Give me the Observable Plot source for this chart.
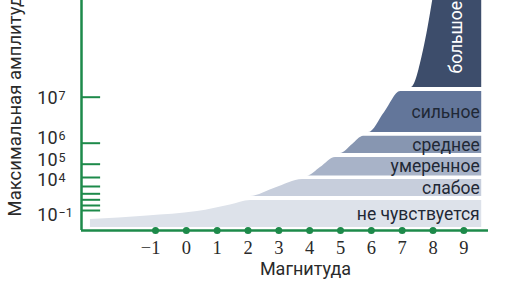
<!DOCTYPE html>
<html><head><meta charset="utf-8">
<script src="https://cdn.jsdelivr.net/npm/d3@7"></script>
<script src="https://cdn.jsdelivr.net/npm/@observablehq/plot@0.6"></script>
<style>body{margin:0;background:#fff;}</style>
</head><body><div id="chart"></div>
<script>
// Magnitude ticks (x axis)
const magnitudes = [-1, 0, 1, 2, 3, 4, 5, 6, 7, 8, 9];
// Amplitude ticks as powers of ten (y axis)
const yTickExponents = [7, 6, 5, 4, 3, 2, 1, 0, -1];
const yLabeledExponents = [7, 6, 5, 4, -1];
const yExponentText = ["7", "6", "5", "4", "−1"];
// the chart's own non-uniform amplitude axis: exponent -> height above the baseline
const yAxisExponents = [-3, -1, 0, 1, 2, 3, 4, 5, 6, 7, 8.5];
const yAxisHeights   = [0, 20, 25, 30.7, 36.7, 44, 53, 66.3, 87.3, 133.3, 230];

// left/upper edge of the shaded region: magnitude vs log10(amplitude)
const curveMagnitude = [-3.11, -1.26, 0.36, 1.43, 2.08, 2.89, 3.77, 3.93, 4.35, 4.84, 5.00, 5.39, 5.75, 5.91, 6.43, 6.95, 7.30, 7.69, 7.99, 8.15, 9.58];
const curveExponent  = [-1.9, -1.55, -1.1, 0.1, 1.55, 2.79, 3.78, 4.11, 4.75, 5.32, 5.51, 5.94, 6.15, 6.23, 6.67, 7.09, 7.15, 7.72, 8.5, 9.0, 9.6];

// intensity bands
const bandNames = ["не чувствуется", "слабое", "умеренное", "среднее", "сильное", "большое"];
const bandLow  = [-2.7, 1.55, 4.11, 5.51, 6.23, 7.15];
const bandHigh = [0.88, 3.78, 5.32, 6.15, 7.09, 9.6];
const bandColors = ["#dde2ea", "#c7cedc", "#a8b3c8", "#8796b1", "#63769a", "#3d4d6b"];

const green = "#1d8a4a";
const ink = "#2a2a2a";
const bandInk = "#1f2835";

const curve = curveMagnitude.map((m, i) => ({m, e: curveExponent[i]}));
const bands = bandNames.map((name, i) => ({name, lo: bandLow[i], hi: bandHigh[i], color: bandColors[i]}));
const rightEdge = curveMagnitude[curveMagnitude.length - 1];
const xMin = -3.4, xMax = 9.8;
const yMin = yAxisExponents[0], yMax = yAxisExponents[yAxisExponents.length - 1];

const toHeight = d3.scaleLinear().domain(yAxisExponents).range(yAxisHeights);
const bandMid = b => toHeight.invert((toHeight(b.lo) + toHeight(b.hi)) / 2);
const clamp = (v, a, b) => Math.max(a, Math.min(b, v));

const labelDy = {"7": 1, "6": -5, "5": -4, "4": 2.5, "-1": 5};

const marks = [];
bands.forEach(b => {
  marks.push(Plot.areaY(curve, {
    x: "m", y1: () => b.lo, y2: d => clamp(d.e, b.lo, b.hi),
    fill: b.color, curve: "monotone-x"
  }));
});
// band labels
marks.push(Plot.text(bands.slice(0, 5), {
  x: () => rightEdge, y: bandMid, text: "name", textAnchor: "end", dx: -2,
  fontSize: 17.5, fill: bandInk
}));
marks.push(Plot.text(bands.slice(5), {
  x: () => rightEdge, y: "lo", text: "name", textAnchor: "start", rotate: -90,
  dx: -25, dy: -14, fontSize: 17.5, fill: "white"
}));
// axes
marks.push(Plot.ruleX([xMin], {y1: () => yMin, y2: () => yMax, stroke: green, strokeWidth: 2.5}));
marks.push(Plot.ruleY([yMin], {x1: () => xMin, x2: () => xMax, stroke: green, strokeWidth: 2.5}));
marks.push(Plot.ruleY(yTickExponents, {y: d => d, x1: () => xMin, x2: () => xMin + 0.62, stroke: green, strokeWidth: 2}));
marks.push(Plot.dot(magnitudes, {x: d => d, y: () => yMin, r: 3.5, fill: green}));
marks.push(Plot.text(magnitudes.filter(d => d >= 0), {
  x: d => d, y: () => yMin, dy: 18, text: d => String(d),
  fontFamily: "Liberation Serif, serif", fontSize: 18.5, fill: ink
}));
marks.push(Plot.text(magnitudes.filter(d => d < 0), {
  x: d => d, y: () => yMin, dy: 18, dx: 5, textAnchor: "end", text: d => "−" + Math.abs(d),
  fontFamily: "Liberation Serif, serif", fontSize: 18.5, fill: ink
}));
yLabeledExponents.forEach((e, i) => {
  const dy = labelDy[String(e)];
  marks.push(Plot.text([e], {x: () => xMin, y: d => d, dx: -24, dy, text: () => "10", textAnchor: "end", fontSize: 18, fill: ink}));
  marks.push(Plot.text([e], {x: () => xMin, y: d => d, dx: -23, dy: dy - 2.5, text: () => yExponentText[i], textAnchor: "start", fontSize: 12.5, fill: ink}));
});
marks.push(Plot.text(["Максимальная амплитуда"], {
  frameAnchor: "bottom-left", text: d => d, rotate: -90, textAnchor: "start",
  dx: -61, dy: -14, fontSize: 18.5, fill: ink
}));
marks.push(Plot.text(["Магнитуда"], {
  frameAnchor: "bottom", text: d => d, dx: 20.5, dy: 44, fontSize: 18, fill: ink
}));

const chart = Plot.plot({
  width: 516, height: 290,
  marginLeft: 81, marginRight: 28, marginTop: 0, marginBottom: 60,
  x: {domain: [xMin, xMax], axis: null},
  y: {transform: toHeight, domain: [toHeight(yMin), toHeight(yMax)], axis: null},
  style: {fontFamily: "Roboto, 'Noto Sans', sans-serif", background: "white", overflow: "visible"},
  marks
});
document.getElementById("chart").appendChild(chart);
</script>
</body></html>
